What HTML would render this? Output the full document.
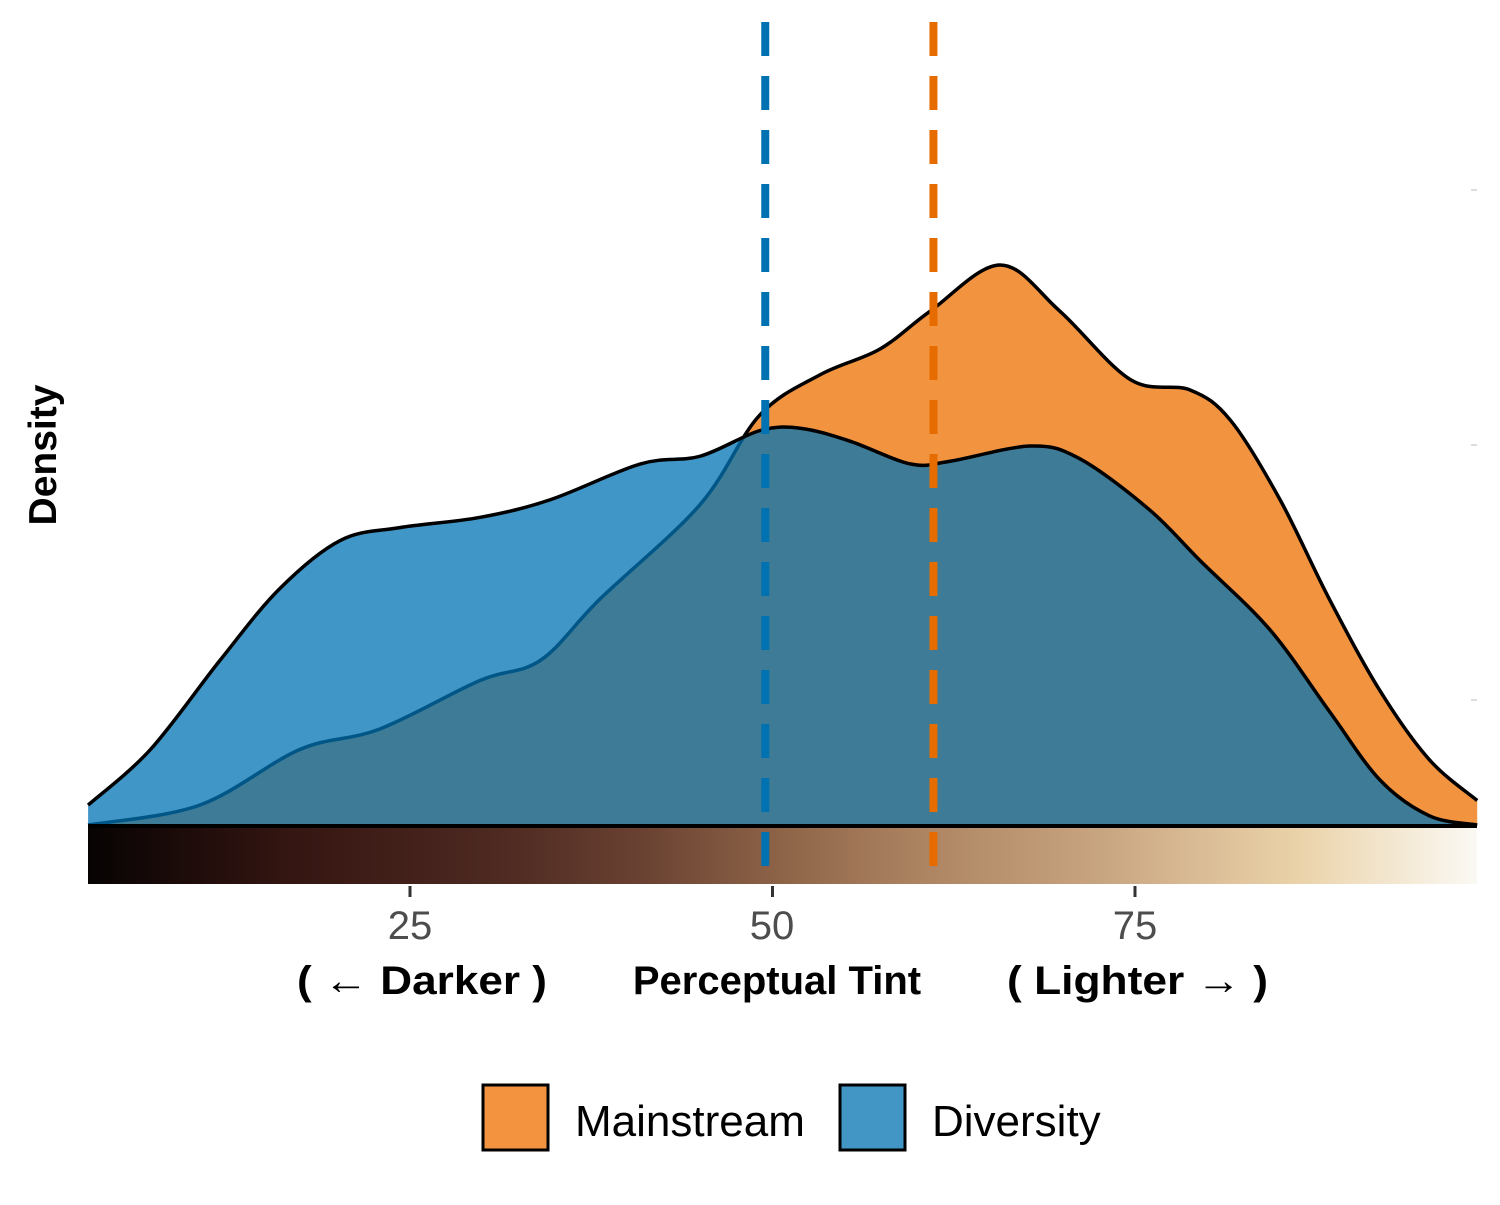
<!DOCTYPE html>
<html><head><meta charset="utf-8"><style>
body{margin:0;background:#fff}
svg text{font-family:"Liberation Sans",sans-serif}
</style></head><body>
<svg id="chart" width="1500" height="1200" viewBox="0 0 1500 1200" xmlns="http://www.w3.org/2000/svg">
<defs>
<linearGradient id="tint" x1="0" x2="1" y1="0" y2="0">
<stop offset="0" stop-color="#070303"/>
<stop offset="0.15" stop-color="#361612"/>
<stop offset="0.3" stop-color="#4e2a22"/>
<stop offset="0.4" stop-color="#6a4232"/>
<stop offset="0.5" stop-color="#8e6448"/>
<stop offset="0.6" stop-color="#ad8462"/>
<stop offset="0.72" stop-color="#c6a27f"/>
<stop offset="0.87" stop-color="#ead2a8"/>
<stop offset="1" stop-color="#fbf9f4"/>
</linearGradient>
</defs>
<g id="plot"></g>
<text x="410" y="939" font-size="40" fill="#4d4d4d" text-anchor="middle">25</text>
<text x="772" y="939" font-size="40" fill="#4d4d4d" text-anchor="middle">50</text>
<text x="1135" y="939" font-size="40" fill="#4d4d4d" text-anchor="middle">75</text>
<g font-size="40" font-weight="bold">
<text x="297" y="994" textLength="250" lengthAdjust="spacingAndGlyphs">( ← Darker )</text>
<text x="777" y="994" text-anchor="middle">Perceptual Tint</text>
<text x="1007" y="994" textLength="261" lengthAdjust="spacingAndGlyphs">( Lighter → )</text>
</g>
<text transform="translate(56,455) rotate(-90)" font-size="39" font-weight="bold" text-anchor="middle">Density</text>
<g>
<rect x="483" y="1085" width="65" height="65" fill="#F39340" stroke="#000" stroke-width="3"/>
<text x="575" y="1136" font-size="44">Mainstream</text>
<rect x="840" y="1085" width="65" height="65" fill="#4196C6" stroke="#000" stroke-width="3"/>
<text x="932" y="1136" font-size="44">Diversity</text>
</g>
</svg>
<script>
const mainX=[2.8,10.5,17.4,22.9,29.8,34.0,38.1,45.0,49.1,53.3,57.4,60.9,65.7,69.8,74.7,78.8,81.6,85.0,88.4,91.9,95.3,98.6];
const mainD=[0.00004,0.00082,0.0030,0.0038,0.0057,0.0065,0.0089,0.0126,0.0161,0.0177,0.0187,0.0202,0.0220,0.0202,0.0175,0.0171,0.0159,0.0128,0.0089,0.0053,0.0026,0.0010];
const divX=[2.8,7.1,11.9,16.0,20.2,24.3,29.8,34.7,40.9,45.0,49.1,51.9,55.3,59.5,62.2,67.8,71.2,76.0,79.5,84.3,88.4,91.9,95.3,98.6];
const divD=[0.00082,0.0030,0.0065,0.0093,0.0112,0.0117,0.0121,0.0128,0.0142,0.0145,0.0155,0.0156,0.0151,0.0142,0.0143,0.0149,0.0144,0.0124,0.0104,0.0077,0.0045,0.0018,0.0004,0.00004];
const means=[49.5,61.1];
const meanColors=["#0072B2","#E66C00"];
const xTicks=[25,50,75];

const NS="http://www.w3.org/2000/svg";
const X=v=>410+(v-25)*14.5;
const Y=d=>826-d*25500;
const g=document.getElementById('plot');
function mk(t,a){const e=document.createElementNS(NS,t);for(const k in a)e.setAttribute(k,a[k]);g.appendChild(e);return e;}
function smooth(xs,ds){
  const p=xs.map((x,i)=>[X(x),Y(ds[i])]);
  let s=`M${p[0][0]},${p[0][1]}`;
  for(let i=0;i<p.length-1;i++){
    const p0=p[i-1]||p[i],p1=p[i],p2=p[i+1],p3=p[i+2]||p2;
    const c1=[p1[0]+(p2[0]-p0[0])/6,p1[1]+(p2[1]-p0[1])/6];
    const c2=[p2[0]-(p3[0]-p1[0])/6,p2[1]-(p3[1]-p1[1])/6];
    s+=` C${c1[0]},${c1[1]} ${c2[0]},${c2[1]} ${p2[0]},${p2[1]}`;
  }
  return s;
}
const gb=mk('rect',{x:88,y:826,width:1389,height:58,fill:'url(#tint)'});


xTicks.forEach(t=>{const l=mk('line',{x1:X(t),x2:X(t),y1:886,y2:897,stroke:'#333','stroke-width':3});

});
[190,445,700].forEach(y=>{const l=mk('line',{x1:1471,x2:1477,y1:y,y2:y,stroke:'#ddd','stroke-width':2});

});
const base=826;
const mp=mk('path',{d:smooth(mainX,mainD)+` L${X(mainX[mainX.length-1])},${base} L${X(mainX[0])},${base} Z`,fill:'rgb(238,111,0)','fill-opacity':0.75});


const ml=mk('path',{d:smooth(mainX,mainD),fill:'none',stroke:'#000','stroke-width':3.5});


const dp=mk('path',{d:smooth(divX,divD)+` L${X(divX[divX.length-1])},${base} L${X(divX[0])},${base} Z`,fill:'rgb(0,115,179)','fill-opacity':0.75});


const dl=mk('path',{d:smooth(divX,divD),fill:'none',stroke:'#000','stroke-width':3.5});


const bl=mk('line',{x1:88,x2:1477,y1:826,y2:826,stroke:'#000','stroke-width':4});


means.forEach((m,i)=>{const l=mk('line',{x1:X(m),x2:X(m),y1:22,y2:886,stroke:meanColors[i],'stroke-width':8,'stroke-dasharray':'34 20'});

});
</script>
</body></html>
